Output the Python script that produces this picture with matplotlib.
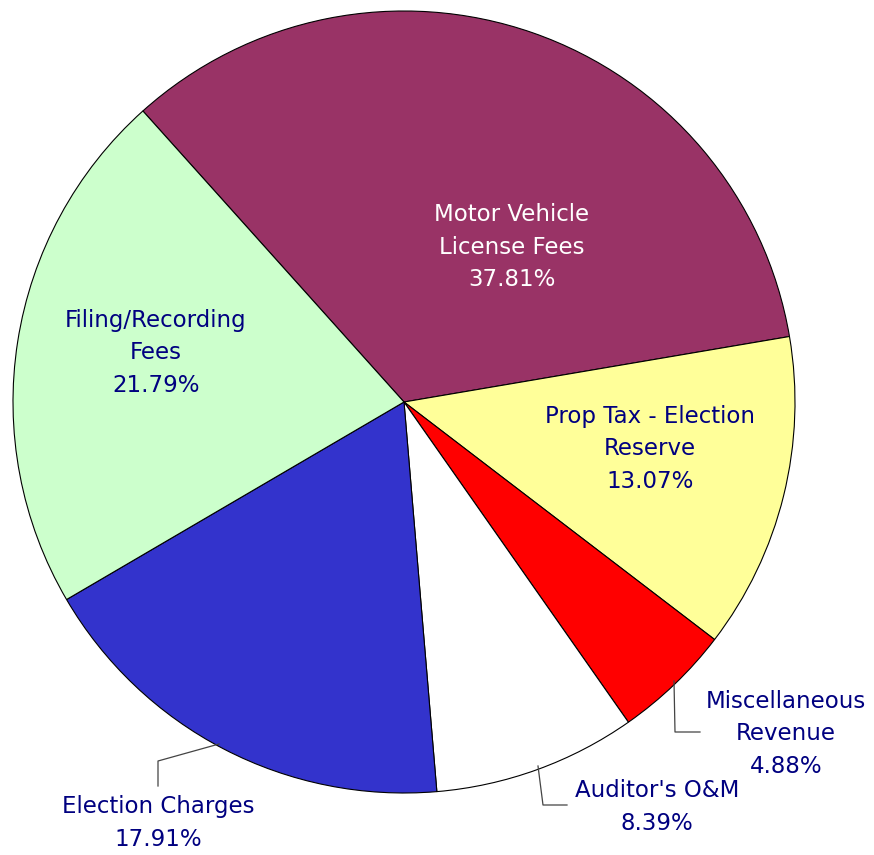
import matplotlib
matplotlib.use("Agg")
import matplotlib.pyplot as plt

# slice sizes as drawn in the picture (percent of the circle), clockwise from top-left
names = ["Motor Vehicle\nLicense Fees", "Prop Tax - Election\nReserve", "Miscellaneous\nRevenue",
         "Auditor's O&M", "Election Charges", "Filing/Recording\nFees"]
sizes = [33.96, 13.07, 4.88, 8.39, 17.91, 21.79]
pct_labels = ["37.81%", "13.07%", "4.88%", "8.39%", "17.91%", "21.79%"]
colors = ["#993366", "#FFFF99", "#FF0000", "#FFFFFF", "#3333CC", "#CCFFCC"]
text_colors = ["white", "#000080", "#000080", "#000080", "#000080", "#000080"]

W, H = 874, 855
fig = plt.figure(figsize=(W / 100, H / 100), dpi=100)
ax = fig.add_axes([0, 0, 1, 1])

cx, cy, r = 404, H - 402, 391
ax.pie(sizes, colors=colors, startangle=131.9, counterclock=False,
       center=(cx, cy), radius=r,
       wedgeprops=dict(edgecolor="black", linewidth=0.8))
ax.set_xlim(0, W)
ax.set_ylim(0, H)
ax.set_aspect("equal")
ax.axis("off")

# label centres in pixel coordinates (from top)
label_pos = [(512, 247), (650, 449), (786, 734), (657, 807), (158, 823), (156, 353)]
for name, pct, (x, y), tc in zip(names, pct_labels, label_pos, text_colors):
    ax.text(x, H - y, name + "\n" + pct, ha="center", va="center", color=tc,
            fontsize=16.5, linespacing=1.55, family="DejaVu Sans")

# leader lines for the small slices
leaders = [
    [(674, 681), (675, 732), (700, 732)],
    [(538, 766), (543, 805), (567, 805)],
    [(219, 744), (158, 761), (158, 786)],
]
for pts in leaders:
    ax.plot([p[0] for p in pts], [H - p[1] for p in pts], color="#444444", linewidth=0.9)

fig.savefig("out.png", dpi=100)
